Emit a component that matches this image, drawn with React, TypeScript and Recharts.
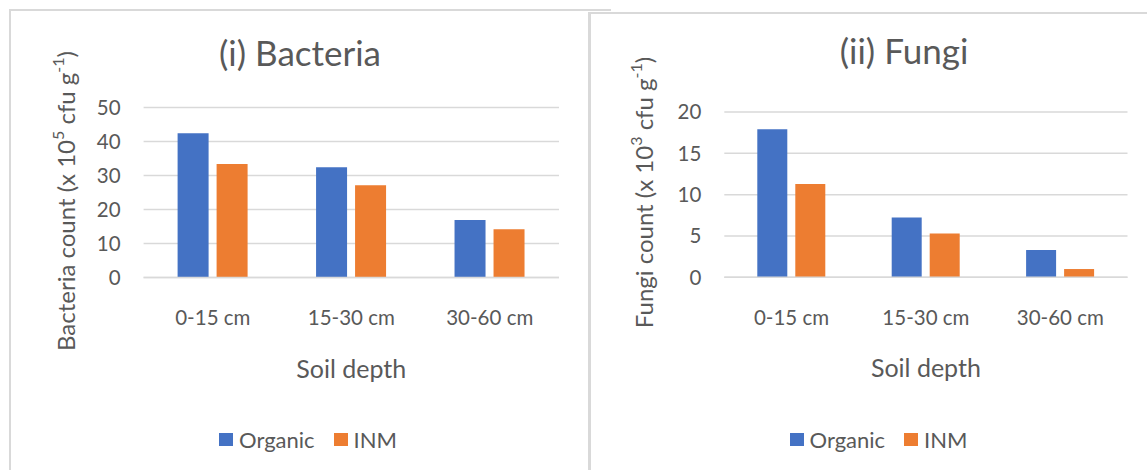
import React from "react";
import { BarChart, Bar, XAxis, YAxis, CartesianGrid, Legend } from "recharts";

const depths = ["0-15 cm", "15-30 cm", "30-60 cm"];
const bacteriaOrganic = [42.4, 32.4, 16.9];
const bacteriaInm = [33.4, 27.1, 14.2];
const fungiOrganic = [17.9, 7.25, 3.3];
const fungiInm = [11.3, 5.3, 1.0];
const bacteriaTicks = [0, 10, 20, 30, 40, 50];
const fungiTicks = [0, 5, 10, 15, 20];

const BLUE = "#4472C4";
const ORANGE = "#ED7D31";
const TEXT = "#595959";
const GRID = "#d9d9d9";
const FONT = "Lato, 'Open Sans', sans-serif";

const bacteriaData = depths.map((d, i) => ({
    depth: d,
    Organic: bacteriaOrganic[i],
    INM: bacteriaInm[i],
}));
const fungiData = depths.map((d, i) => ({
    depth: d,
    Organic: fungiOrganic[i],
    INM: fungiInm[i],
}));

type PanelProps = {
    data: { depth: string; Organic: number; INM: number }[];
    ticks: number[];
    title: string;
    yName: string;
    exp: string;
    width: number;
    height: number;
    margin: { top: number; right: number; bottom: number; left: number };
    yWidth: number;
    xHeight: number;
    barSize: number;
    titleX: number;
    titleY: number;
    yTitleX: number;
    yTitleY: number;
    legendPad: number;
};

function LegendBox({ pad }: { pad: number }) {
    const item = (color: string, label: string, gap: number) => (
        <div style={{ display: "flex", alignItems: "center", marginRight: gap }}>
            <div style={{ width: 14, height: 13, background: color, marginRight: 6 }} />
            <span style={{ fontSize: 22, color: TEXT, fontFamily: FONT }}>{label}</span>
        </div>
    );
    return (
        <div
            style={{
                display: "flex",
                justifyContent: "center",
                alignItems: "center",
                height: 30,
                paddingLeft: pad,
            }}
        >
            {item(BLUE, "Organic", 19)}
            {item(ORANGE, "INM", 0)}
        </div>
    );
}

function Panel(p: PanelProps) {
    return (
        <BarChart
            width={p.width}
            height={p.height}
            data={p.data}
            margin={p.margin}
            barGap={8}
            barSize={p.barSize}
            style={{ fontFamily: FONT }}
        >
            <CartesianGrid vertical={false} stroke={GRID} strokeWidth={1.5} />
            <XAxis
                dataKey="depth"
                height={p.xHeight}
                tickLine={false}
                tickSize={0}
                tickMargin={33}
                axisLine={{ stroke: GRID, strokeWidth: 1.5 }}
                tick={{ fill: TEXT, fontSize: 20.5 }}
                label={{
                    content: ({ viewBox }: any) => (
                        <text
                            x={viewBox.x + viewBox.width / 2}
                            y={viewBox.y + 100}
                            textAnchor="middle"
                            fill={TEXT}
                            fontSize={25}
                        >
                            Soil depth
                        </text>
                    ),
                }}
            />
            <YAxis
                width={p.yWidth}
                domain={[0, p.ticks[p.ticks.length - 1]]}
                ticks={p.ticks}
                tickLine={false}
                axisLine={false}
                tickSize={0}
                tickMargin={23}
                tick={{ fill: TEXT, fontSize: 20.5 }}
                label={{
                    content: () => (
                        <text
                            x={p.yTitleX}
                            y={p.yTitleY}
                            transform={`rotate(-90, ${p.yTitleX}, ${p.yTitleY})`}
                            textAnchor="middle"
                            dominantBaseline="central"
                            fill={TEXT}
                            fontSize={24}
                        >
                            {p.yName} (x 10
                            <tspan dy={-8} fontSize={16}>
                                {p.exp}
                            </tspan>
                            <tspan dy={8}> cfu g</tspan>
                            <tspan dy={-8} fontSize={16}>
                                -1
                            </tspan>
                            <tspan dy={8}>)</tspan>
                        </text>
                    ),
                }}
            />
            <Legend
                verticalAlign="bottom"
                wrapperStyle={{ left: 0, width: p.width }}
                content={() => <LegendBox pad={p.legendPad} />}
            />
            <Bar dataKey="Organic" fill={BLUE} isAnimationActive={false} />
            <Bar dataKey="INM" fill={ORANGE} isAnimationActive={false} />
            <text
                x={p.titleX}
                y={p.titleY}
                textAnchor="middle"
                fill={TEXT}
                fontSize={35}
            >
                {p.title}
            </text>
        </BarChart>
    );
}

export default function App() {
    return (
        <div
            style={{
                position: "absolute",
                left: 0,
                top: 0,
                width: 1147,
                height: 470,
                overflow: "hidden",
                background: "#fff",
                fontFamily: FONT,
            }}
        >
            <div
                style={{
                    position: "absolute",
                    left: 9,
                    top: 9,
                    width: 600,
                    height: 480,
                    borderLeft: `2px solid ${GRID}`,
                    borderTop: `2px solid ${GRID}`,
                }}
            />
            <div style={{ position: "absolute", left: 10, top: 10 }}>
                <Panel
                    data={bacteriaData}
                    ticks={bacteriaTicks}
                    title="(i) Bacteria"
                    yName="Bacteria count"
                    exp="5"
                    width={578}
                    height={460}
                    margin={{ top: 97.5, right: 29, bottom: 16, left: 0 }}
                    yWidth={133.6}
                    xHeight={146.5}
                    barSize={31}
                    titleX={290}
                    titleY={56}
                    yTitleX={55}
                    yTitleY={191}
                    legendPad={18}
                />
            </div>
            <div
                style={{
                    position: "absolute",
                    left: 588,
                    top: 12,
                    width: 600,
                    height: 480,
                    background: "#fff",
                    borderLeft: `3px solid ${GRID}`,
                    borderTop: `2px solid ${GRID}`,
                }}
            />
            <div style={{ position: "absolute", left: 590, top: 13 }}>
                <Panel
                    data={fungiData}
                    ticks={fungiTicks}
                    title="(ii) Fungi"
                    yName="Fungi count"
                    exp="3"
                    width={557}
                    height={457}
                    margin={{ top: 99, right: 19.5, bottom: 16, left: 0 }}
                    yWidth={134.3}
                    xHeight={146.7}
                    barSize={30}
                    titleX={314}
                    titleY={51}
                    yTitleX={53}
                    yTitleY={179.5}
                    legendPad={20}
                />
            </div>
        </div>
    );
}
